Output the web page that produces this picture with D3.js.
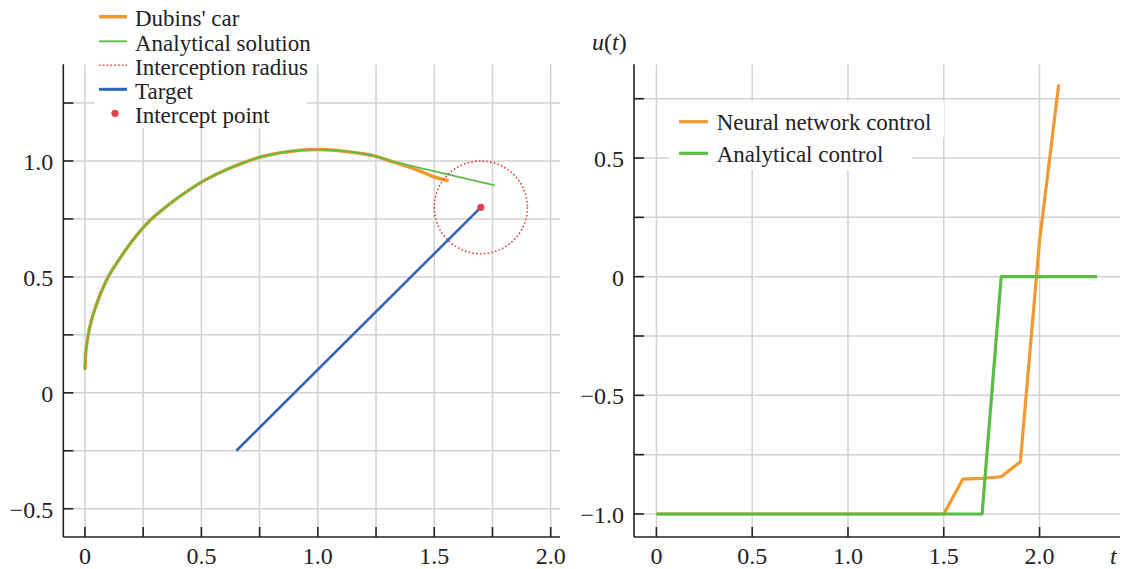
<!DOCTYPE html>
<html>
<head>
<meta charset="utf-8">
<script src="https://cdn.jsdelivr.net/npm/d3@7"></script>
<style>
  html, body { margin: 0; padding: 0; background: #fff; }
  svg { display: block; }
  text { font-family: "Liberation Serif", "Times New Roman", serif; fill: #222; }
</style>
</head>
<body>
<svg id="chart" width="1121" height="569"></svg>
<script>
// ---- Trajectory panel data ----
const carX = [0.000, 0.004, 0.014, 0.030, 0.060, 0.100, 0.150, 0.210, 0.280, 0.360, 0.440, 0.520, 0.620, 0.750, 0.870, 1.000, 1.120, 1.250, 1.310, 1.380, 1.450, 1.500, 1.562];
const carY = [0.100, 0.180, 0.250, 0.320, 0.410, 0.500, 0.580, 0.664, 0.744, 0.812, 0.870, 0.920, 0.968, 1.016, 1.040, 1.049, 1.041, 1.020, 1.000, 0.978, 0.952, 0.931, 0.915];
const solX = [0.000, 0.004, 0.014, 0.030, 0.060, 0.100, 0.150, 0.210, 0.280, 0.360, 0.440, 0.520, 0.620, 0.750, 0.870, 1.000, 1.120, 1.250, 1.310];
const solY = [0.100, 0.180, 0.250, 0.320, 0.410, 0.500, 0.580, 0.664, 0.744, 0.812, 0.870, 0.920, 0.968, 1.016, 1.040, 1.049, 1.041, 1.020, 1.000];
// straight run of the analytical path after the arc
const solTailX = [1.310, 1.760];
const solTailY = [1.000, 0.895];
const targetX = [0.65, 1.70];
const targetY = [-0.25, 0.80];
const interceptPoint = [1.70, 0.80];
const interceptRadius = 0.2;

const leftXTicks = [0, 0.25, 0.5, 0.75, 1.0, 1.25, 1.5, 1.75, 2.0];
const leftXLabels = { "0": "0", "0.5": "0.5", "1": "1.0", "1.5": "1.5", "2": "2.0" };
const leftYTicks = [-0.5, -0.25, 0, 0.25, 0.5, 0.75, 1.0, 1.25];
const leftYLabels = { "-0.5": "\u22120.5", "0": "0", "0.5": "0.5", "1": "1.0" };

const leftLegend = ["Dubins' car", "Analytical solution", "Interception radius", "Target", "Intercept point"];

// ---- Control panel data ----
const tNN = [0.0, 0.1, 0.2, 0.3, 0.4, 0.5, 0.6, 0.7, 0.8, 0.9, 1.0, 1.1, 1.2, 1.3, 1.4, 1.5, 1.6, 1.7, 1.8, 1.9, 2.0, 2.1];
const uNN = [-1, -1, -1, -1, -1, -1, -1, -1, -1, -1, -1, -1, -1, -1, -1, -1, -0.853, -0.85, -0.843, -0.78, 0.15, 0.81];
const tAn = [0.0, 0.1, 0.2, 0.3, 0.4, 0.5, 0.6, 0.7, 0.8, 0.9, 1.0, 1.1, 1.2, 1.3, 1.4, 1.5, 1.6, 1.7, 1.8, 1.9, 2.0, 2.1, 2.2, 2.3];
const uAn = [-1, -1, -1, -1, -1, -1, -1, -1, -1, -1, -1, -1, -1, -1, -1, -1, -1, -1, 0, 0, 0, 0, 0, 0];

const rightXTicks = [0, 0.5, 1.0, 1.5, 2.0];
const rightXLabels = ["0", "0.5", "1.0", "1.5", "2.0"];
const rightYTicks = [-1.0, -0.75, -0.5, -0.25, 0, 0.25, 0.5, 0.75];
const rightYLabels = { "-1": "\u22121.0", "-0.5": "\u22120.5", "0": "0", "0.5": "0.5" };

const rightLegend = ["Neural network control", "Analytical control"];

const C = {
  orange: "#f0992e",
  green: "#5bbd45",
  blue: "#2f67b6",
  red: "#e2404c",
  grid: "#d2d2d2",
  axis: "#222"
};

const svg = d3.select("#chart");
const FONT = 23;
const TICK_FONT = 24;

// ---- scales ----
const xL = d3.scaleLinear().domain([-0.093, 2.04]).range([63.3, 560]);
const yL = d3.scaleLinear().domain([-0.622, 1.417]).range([537, 64.3]);
const xR = d3.scaleLinear().domain([-0.117, 2.42]).range([634, 1120]);
const yR = d3.scaleLinear().domain([-1.097, 0.895]).range([537, 64.3]);

function grid(x, y, xGrid, yGrid) {
  const g = svg.append("g");
  const [x0, x1] = x.range();
  const [y0, y1] = y.range();
  g.append("g").selectAll("line").data(xGrid).join("line")
    .attr("x1", d => x(d)).attr("x2", d => x(d))
    .attr("y1", y1).attr("y2", y0)
    .attr("stroke", C.grid).attr("stroke-width", 1.5);
  g.append("g").selectAll("line").data(yGrid).join("line")
    .attr("x1", x0).attr("x2", x1)
    .attr("y1", d => y(d)).attr("y2", d => y(d))
    .attr("stroke", C.grid).attr("stroke-width", 1.5);
}

function axes(x, y, xTicks, yTicks, xLab, yLab) {
  const g = svg.append("g");
  const [x0, x1] = x.range();
  const [y0, y1] = y.range();
  g.append("line").attr("x1", x0).attr("x2", x0).attr("y1", y1).attr("y2", y0)
    .attr("stroke", C.axis).attr("stroke-width", 1.6);
  g.append("line").attr("x1", x0).attr("x2", x1).attr("y1", y0).attr("y2", y0)
    .attr("stroke", C.axis).attr("stroke-width", 1.6);
  // ticks point inward
  g.append("g").selectAll("line").data(xTicks).join("line")
    .attr("x1", d => x(d)).attr("x2", d => x(d))
    .attr("y1", y0).attr("y2", y0 - 10)
    .attr("stroke", C.axis).attr("stroke-width", 1.6);
  g.append("g").selectAll("line").data(yTicks).join("line")
    .attr("x1", x0).attr("x2", x0 + 10)
    .attr("y1", d => y(d)).attr("y2", d => y(d))
    .attr("stroke", C.axis).attr("stroke-width", 1.6);
  g.append("g").selectAll("text").data(xTicks.filter(d => xLab(d) !== undefined)).join("text")
    .attr("x", d => x(d)).attr("y", 564)
    .attr("text-anchor", "middle").attr("font-size", TICK_FONT)
    .text(d => xLab(d));
  g.append("g").selectAll("text").data(yTicks.filter(d => yLab(d) !== undefined)).join("text")
    .attr("x", x0 - 10).attr("y", d => y(d) + 9)
    .attr("text-anchor", "end").attr("font-size", TICK_FONT)
    .text(d => yLab(d));
}

// ================= Left panel =================
grid(xL, yL, leftXTicks, leftYTicks);

// legend background
svg.append("rect").attr("x", 95).attr("y", 0).attr("width", 212).attr("height", 128).attr("fill", "#fff");

axes(xL, yL, leftXTicks, leftYTicks, d => leftXLabels[String(d)], d => leftYLabels[String(d)]);

const smoothL = d3.line().x(d => xL(d[0])).y(d => yL(d[1])).curve(d3.curveCatmullRom.alpha(0.5));
const lineL = d3.line().x(d => xL(d[0])).y(d => yL(d[1]));
svg.append("path").datum(d3.zip(carX, carY)).attr("d", smoothL)
  .attr("fill", "none").attr("stroke", C.orange).attr("stroke-width", 3.5)
  .attr("stroke-linejoin", "round");
svg.append("path").datum(d3.zip(solX, solY)).attr("d", smoothL)
  .attr("fill", "none").attr("stroke", C.green).attr("stroke-width", 1.8)
  .attr("stroke-linejoin", "round");
svg.append("path").datum(d3.zip(solTailX, solTailY)).attr("d", lineL)
  .attr("fill", "none").attr("stroke", C.green).attr("stroke-width", 1.8);
svg.append("path").datum(d3.zip(targetX, targetY)).attr("d", lineL)
  .attr("fill", "none").attr("stroke", C.blue).attr("stroke-width", 2.6);
svg.append("ellipse")
  .attr("cx", xL(interceptPoint[0])).attr("cy", yL(interceptPoint[1]))
  .attr("rx", xL(interceptPoint[0] + interceptRadius) - xL(interceptPoint[0]))
  .attr("ry", yL(interceptPoint[1]) - yL(interceptPoint[1] + interceptRadius))
  .attr("fill", "none").attr("stroke", C.red).attr("stroke-width", 1.6)
  .attr("stroke-dasharray", "1.6,2.2");
svg.append("circle")
  .attr("cx", xL(interceptPoint[0])).attr("cy", yL(interceptPoint[1])).attr("r", 3.6)
  .attr("fill", C.red);

// left legend
const legL = svg.append("g");
const legLY = [16.7, 41.3, 65.3, 89.3, 113.3];
leftLegend.forEach((name, i) => {
  const yy = legLY[i];
  if (i === 0) legL.append("line").attr("x1", 99).attr("x2", 127).attr("y1", yy).attr("y2", yy).attr("stroke", C.orange).attr("stroke-width", 3.5);
  if (i === 1) legL.append("line").attr("x1", 99).attr("x2", 127).attr("y1", yy).attr("y2", yy).attr("stroke", C.green).attr("stroke-width", 1.8);
  if (i === 2) legL.append("line").attr("x1", 99).attr("x2", 127).attr("y1", yy).attr("y2", yy).attr("stroke", C.red).attr("stroke-width", 1.6).attr("stroke-dasharray", "1.6,2.2");
  if (i === 3) legL.append("line").attr("x1", 99).attr("x2", 127).attr("y1", yy).attr("y2", yy).attr("stroke", C.blue).attr("stroke-width", 3);
  if (i === 4) legL.append("circle").attr("cx", 115).attr("cy", yy).attr("r", 3.6).attr("fill", C.red);
  legL.append("text").attr("x", 135).attr("y", yy + 9.5).attr("font-size", FONT).text(name);
});

// ================= Right panel =================
grid(xR, yR, rightXTicks, rightYTicks);

// legend row backgrounds
svg.append("rect").attr("x", 670).attr("y", 101).attr("width", 274).attr("height", 36).attr("fill", "#fff");
svg.append("rect").attr("x", 670).attr("y", 137).attr("width", 242).attr("height", 33).attr("fill", "#fff");

axes(xR, yR, rightXTicks, rightYTicks,
  d => rightXLabels[rightXTicks.indexOf(d)], d => rightYLabels[String(d)]);

const lineR = d3.line().x(d => xR(d[0])).y(d => yR(d[1]));
svg.append("path").datum(d3.zip(tNN, uNN)).attr("d", lineR)
  .attr("fill", "none").attr("stroke", C.orange).attr("stroke-width", 3.2)
  .attr("stroke-linejoin", "round");
svg.append("path").datum(d3.zip(tAn, uAn)).attr("d", lineR)
  .attr("fill", "none").attr("stroke", C.green).attr("stroke-width", 3.2)
  .attr("stroke-linejoin", "round");

// right legend
const legR = svg.append("g");
const legRY = [121.7, 153.3];
const legRC = [C.orange, C.green];
rightLegend.forEach((name, i) => {
  legR.append("line").attr("x1", 679).attr("x2", 708).attr("y1", legRY[i]).attr("y2", legRY[i])
    .attr("stroke", legRC[i]).attr("stroke-width", 3.2);
  legR.append("text").attr("x", 716.7).attr("y", legRY[i] + 8.5).attr("font-size", FONT).text(name);
});

// axis titles
const ut = svg.append("text").attr("x", 592).attr("y", 50).attr("font-size", 24);
ut.append("tspan").attr("font-style", "italic").text("u");
ut.append("tspan").text("(");
ut.append("tspan").attr("font-style", "italic").text("t");
ut.append("tspan").text(")");
svg.append("text").attr("x", 1110).attr("y", 564).attr("font-size", 24)
  .attr("font-style", "italic").text("t");
</script>
</body>
</html>
